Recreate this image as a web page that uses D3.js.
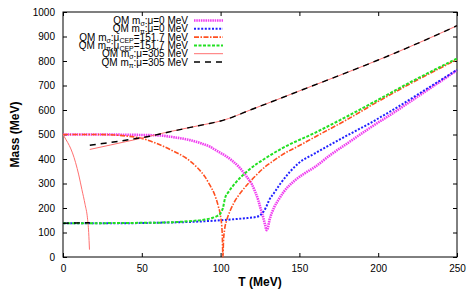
<!DOCTYPE html>
<html>
<head>
<meta charset="utf-8">
<script src="https://cdn.jsdelivr.net/npm/d3@7"></script>
<style>
  body { margin: 0; background: #fff; }
  svg { display: block; font-family: "Liberation Sans", Arial, sans-serif; }
</style>
</head>
<body>
<div id="chart"></div>
<script>
// Meson masses vs temperature, quark-meson model

// mu = 0
const sigma0T = [0, 20, 40, 50, 61.5, 70, 80.6, 88, 93.3, 96.4, 100, 107, 112, 117.6, 120, 122, 123.9, 125.5, 127.1, 128.3, 129.2, 130, 131, 132.5, 134, 136.6, 140, 147.2, 153, 159.9, 170, 180, 195, 210, 230, 250];
const sigma0M = [500, 500, 499, 498, 496, 489, 477, 463, 450, 438, 425, 395, 365, 318, 295, 265, 232, 195, 160, 130, 109, 120, 150, 180, 203, 232, 265, 313, 340, 368, 418, 462, 528, 590, 676, 762];
const pi0T = [0, 20, 40, 60, 80, 90, 100, 110, 117, 122.9, 125, 127.1, 129, 130.8, 134, 138, 144, 149.3, 159.9, 170, 180, 195, 210, 230, 250];
const pi0M = [138, 138, 138, 140, 143, 146, 150, 155, 159, 164, 170, 184, 205, 232, 262, 300, 348, 382, 423, 460, 495, 547, 603, 683, 764];

// mu = mu_CEP = 151.7 MeV
const sigmaCepT = [0, 20, 30, 40, 50, 61.5, 70, 78.5, 85, 90, 93.3, 96, 98.5, 100, 101, 101.5, 101.8, 102.5, 103.9, 106, 108.5, 113, 117.6, 122, 128.2, 133.4, 138.8, 150, 159.9, 180, 200, 220, 250];
const sigmaCepM = [500, 500, 499, 494, 484, 458, 432, 402, 366, 328, 292, 258, 208, 165, 100, 0, 60, 110, 150, 188, 222, 265, 300, 330, 368, 392, 416, 455, 490, 560, 635, 706, 806];
const piCepT = [0, 20, 40, 60, 70, 80, 90, 95, 98, 99.6, 100.5, 101.5, 102, 102.8, 105, 109.1, 117.6, 128.2, 138.8, 159.9, 180, 200, 220, 250];
const piCepM = [138, 138, 139, 140, 142, 146, 153, 160, 168, 175, 185, 200, 215, 240, 265, 300, 354, 402, 443, 507, 573, 642, 712, 810];

// mu = 305 MeV (first-order jump at T ~ 17 MeV)
const sigma305LowT = [0, 2, 4, 6, 8, 10, 12, 14, 15.5, 16.3, 16.8];
const sigma305LowM = [500, 478, 455, 425, 385, 335, 275, 215, 160, 100, 30];
const sigma305HighT = [17, 30, 45, 55, 65, 80, 93, 100, 120, 137.7, 150, 175, 200, 225, 250];
const sigma305HighM = [439, 457, 478, 493, 508, 528, 545, 555, 603, 647, 678, 740, 804, 872, 944];
const pi305LowT = [0, 17];
const pi305LowM = [138, 140];
const pi305HighT = [17, 25, 35, 45, 55, 65, 80, 93, 100, 120, 137.7, 150, 175, 200, 225, 250];
const pi305HighM = [456, 463, 472, 482, 493, 507, 528, 545, 555, 603, 647, 678, 740, 804, 872, 944];

const xTicks = [0, 50, 100, 150, 200, 250];
const yTicks = [0, 100, 200, 300, 400, 500, 600, 700, 800, 900, 1000];

const zip = (ts, ms) => ts.map((t, i) => ({ t, m: ms[i] }));

const series = [
  { label: ['QM m', 'σ', ':μ=0 MeV'], parts: [zip(sigma0T, sigma0M)], color: '#f03cf0', width: 2.6, dash: '1.5,0.8' },
  { label: ['QM m', 'π', ':μ=0 MeV'], parts: [zip(pi0T, pi0M)], color: '#2020ff', width: 2, dash: '2,1.6' },
  { label: ['QM m', 'σ', ':μ', 'CEP', '=151.7 MeV'], parts: [zip(sigmaCepT, sigmaCepM)], color: '#ff5020', width: 1.6, dash: '5,1.5,1.5,1.5' },
  { label: ['QM m', 'π', ':μ', 'CEP', '=151.7 MeV'], parts: [zip(piCepT, piCepM)], color: '#22e022', width: 2, dash: '3,1.5' },
  { label: ['QM m', 'σ', ':μ=305 MeV'], parts: [zip(sigma305LowT, sigma305LowM), zip(sigma305HighT, sigma305HighM)], color: '#ff7070', width: 1, dash: null },
  { label: ['QM m', 'π', ':μ=305 MeV'], parts: [zip(pi305LowT, pi305LowM), zip(pi305HighT, pi305HighM)], color: '#000', width: 1.4, dash: '6,5' }
];

const W = 469, H = 305;
const margin = { left: 63, right: 12, top: 12, bottom: 48 };
const iw = W - margin.left - margin.right;
const ih = H - margin.top - margin.bottom;

const svg = d3.select('#chart').append('svg')
  .attr('width', W)
  .attr('height', H);

const g = svg.append('g')
  .attr('transform', `translate(${margin.left},${margin.top})`);

const x = d3.scaleLinear().domain([0, 250]).range([0, iw]);
const y = d3.scaleLinear().domain([0, 1000]).range([ih, 0]);

// axes, gnuplot style: inward ticks on all four sides
const styleAxis = sel => {
  sel.select('.domain').remove();
  sel.selectAll('line').attr('stroke', '#000');
  sel.selectAll('text').attr('fill', '#000').attr('font-size', 10)
    .attr('font-family', '"Liberation Sans", Arial, sans-serif');
};

g.append('g')
  .attr('transform', `translate(0,${ih})`)
  .call(d3.axisBottom(x).tickValues(xTicks).tickFormat(d3.format('d')).tickSizeInner(-4).tickSizeOuter(0).tickPadding(8))
  .call(styleAxis);
g.append('g')
  .call(d3.axisTop(x).tickValues(xTicks).tickSizeInner(-4).tickSizeOuter(0).tickFormat(''))
  .call(styleAxis);
g.append('g')
  .call(d3.axisLeft(y).tickValues(yTicks).tickFormat(d3.format('d')).tickSizeInner(-4).tickSizeOuter(0).tickPadding(8))
  .call(styleAxis);
g.append('g')
  .attr('transform', `translate(${iw},0)`)
  .call(d3.axisRight(y).tickValues(yTicks).tickSizeInner(-4).tickSizeOuter(0).tickFormat(''))
  .call(styleAxis);

g.append('rect')
  .attr('width', iw)
  .attr('height', ih)
  .attr('fill', 'none')
  .attr('stroke', '#000')
  .attr('stroke-width', 1);

// curves
const line = d3.line()
  .x(d => x(d.t))
  .y(d => y(d.m))
  .curve(d3.curveMonotoneX);

const plot = g.append('g');
series.forEach(s => {
  s.parts.forEach(p => {
    plot.append('path')
      .datum(p)
      .attr('d', line)
      .attr('fill', 'none')
      .attr('stroke', s.color)
      .attr('stroke-width', s.width)
      .attr('stroke-dasharray', s.dash);
  });
});

// legend
const leg = g.append('g');
series.forEach((s, i) => {
  const ly = 8.5 + i * 8.3;
  const txt = leg.append('text')
    .attr('x', 125)
    .attr('y', ly + 3.5)
    .attr('text-anchor', 'end')
    .attr('font-size', 10)
    .attr('fill', '#000');
  s.label.forEach((part, k) => {
    const sub = k % 2 === 1;
    txt.append('tspan')
      .attr('font-size', sub ? 7 : 10)
      .attr('dy', sub ? 2 : (k > 0 ? -2 : 0))
      .text(part);
  });
  leg.append('line')
    .attr('x1', 131).attr('x2', 160)
    .attr('y1', ly).attr('y2', ly)
    .attr('stroke', s.color)
    .attr('stroke-width', s.width)
    .attr('stroke-dasharray', s.dash);
});

// axis titles
svg.append('text')
  .attr('x', margin.left + iw / 2)
  .attr('y', 286)
  .attr('text-anchor', 'middle')
  .attr('font-size', 12)
  .attr('font-weight', 'bold')
  .text('T (MeV)');

svg.append('text')
  .attr('transform', `translate(19,${margin.top + ih / 2}) rotate(-90)`)
  .attr('text-anchor', 'middle')
  .attr('font-size', 12)
  .attr('font-weight', 'bold')
  .text('Mass (MeV)');
</script>
</body>
</html>
